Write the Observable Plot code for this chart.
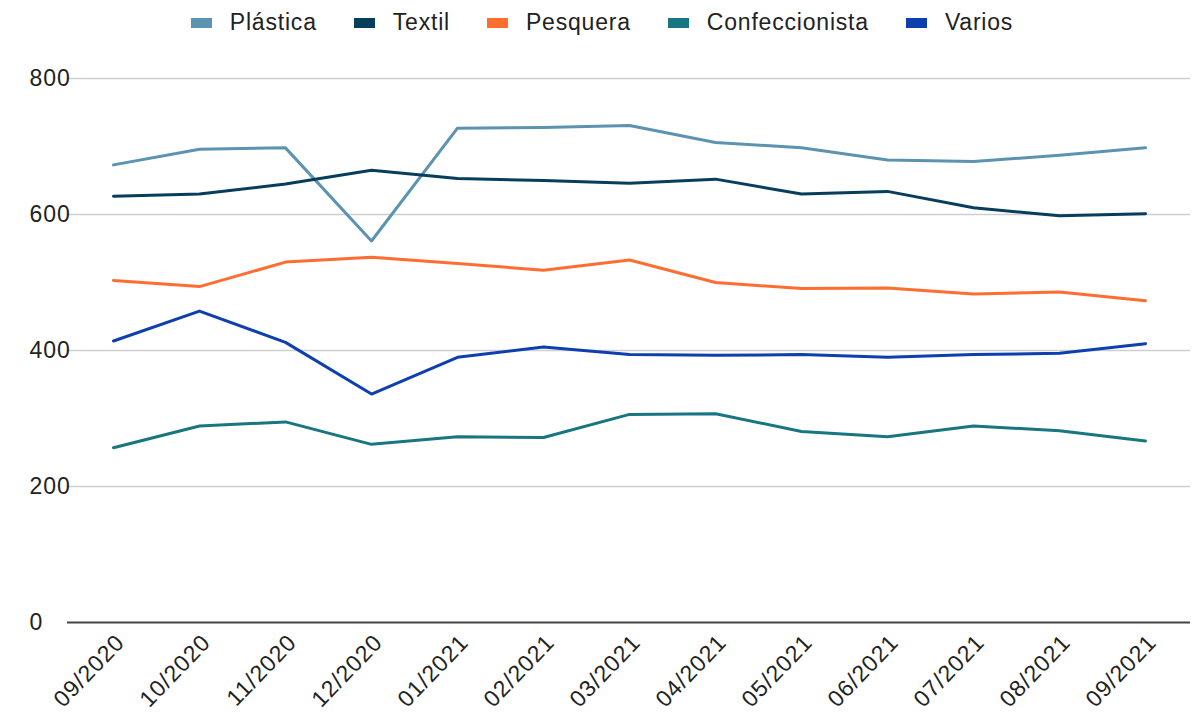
<!DOCTYPE html>
<html><head><meta charset="utf-8">
<script src="https://cdn.jsdelivr.net/npm/d3@7"></script>
<script src="https://cdn.jsdelivr.net/npm/@observablehq/plot@0.6"></script>
<style>
body{margin:0;background:#fff;font-family:"Liberation Sans",Arial,sans-serif;}
#legend{height:45px;display:flex;justify-content:center;align-items:center;gap:37px;font-size:23px;letter-spacing:0.8px;color:#222;padding-left:10px;box-sizing:border-box}
.item{display:flex;align-items:center;gap:18px}
.sw{width:21px;height:10px}
svg text{letter-spacing:1px}
</style></head><body>
<div id="legend"></div><div id="chart"></div>
<script>
const months = ["09/2020","10/2020","11/2020","12/2020","01/2021","02/2021","03/2021","04/2021","05/2021","06/2021","07/2021","08/2021","09/2021"];
const seriesNames = ["Plástica","Textil","Pesquera","Confeccionista","Varios"];
const seriesColors = ["#5b93b1","#073e5b","#ff6d31","#17767f","#0e3fae"];
const plastica = [673,696,698,561,727,728,731,706,698,680,678,687,698];
const textil = [627,630,645,665,653,650,646,652,630,634,610,598,601];
const pesquera = [503,494,530,537,528,518,533,500,491,492,483,486,473];
const confeccionista = [257,289,295,262,273,272,306,307,281,273,289,282,267];
const varios = [414,458,412,336,390,405,394,393,394,390,394,396,410];
const yTicks = [0,200,400,600,800];

const seriesValues = [plastica,textil,pesquera,confeccionista,varios];
const data = [];
seriesNames.forEach((s,i)=>months.forEach((m,j)=>data.push({serie:s,mes:m,valor:seriesValues[i][j]})));

const legend = document.getElementById("legend");
seriesNames.forEach((s,i)=>{
  const it=document.createElement("div");it.className="item";
  const sw=document.createElement("div");sw.className="sw";sw.style.background=seriesColors[i];
  const t=document.createElement("span");t.textContent=s;
  it.appendChild(sw);it.appendChild(t);legend.appendChild(it);
});

const chart = Plot.plot({
  width:1194,height:670,
  marginLeft:67,marginRight:4,marginTop:33,marginBottom:93,
  style:{fontFamily:"Liberation Sans, Arial, sans-serif",fontSize:"23px",color:"#222",background:"#fff"},
  x:{type:"point",domain:months,padding:0.5,label:null},
  y:{domain:[0,800],label:null},
  color:{domain:seriesNames,range:seriesColors},
  marks:[
    Plot.gridY(yTicks.filter(d=>d>0),{stroke:"#cfcfcf",strokeOpacity:1,strokeWidth:1.5}),
    Plot.axisY(yTicks,{tickSize:0,textAnchor:"start",dx:-29,label:null,fill:"#222"}),
    Plot.ruleY([0],{stroke:"#444",strokeWidth:1.8}),
    Plot.axisX({tickSize:0,tickRotate:-46,label:null,tickPadding:16,dx:7,fill:"#222"}),
    Plot.lineY(data,{x:"mes",y:"valor",z:"serie",stroke:"serie",strokeWidth:3,strokeLinejoin:"round"})
  ]
});
document.getElementById("chart").appendChild(chart);
</script></body></html>
